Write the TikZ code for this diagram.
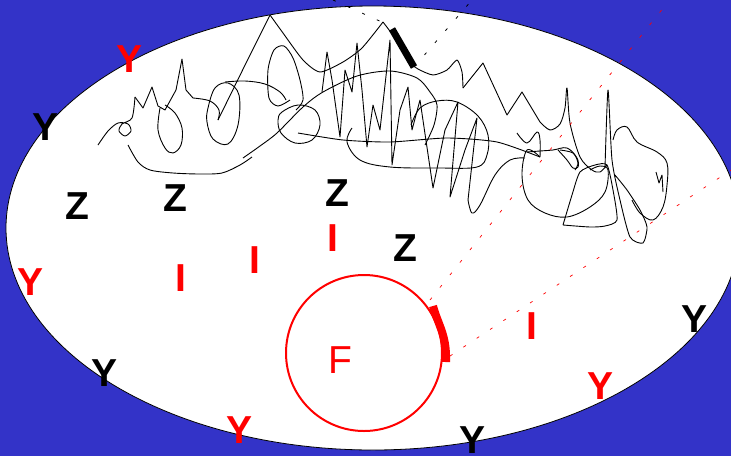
\documentclass[tikz,border=0pt]{standalone}
\usepackage{fontspec}
\setmainfont{Liberation Sans}
\definecolor{Backdrop}{HTML}{3333C8}
\definecolor{Mark}{HTML}{FF0000}

\begin{document}
\begin{tikzpicture}[
  x=1pt,y=-1pt,
  letter/.style={font=\fontsize{39}{39}\selectfont\bfseries,inner sep=0pt},
  scribble/.style={line width=0.9pt,line join=round},
  trail/.style={line width=0.8pt,dash pattern=on 3pt off 13pt}
]
  \fill[Backdrop] (0,0) rectangle (731,456);
  \useasboundingbox (0,0) rectangle (731,456);
  \draw[fill=white,line width=0.8pt] (373,228) ellipse [x radius=367,y radius=222];

  % scribble, left and top part
  \draw[scribble] plot[smooth,tension=0.5] coordinates {(98,145) (108,131) (118,123) (128,124) (131,131) (125,136) (119,131) (122,124) (132,118) (135,97)};
  \draw[scribble] (135,97) -- (143,108) -- (152,87) -- (158,106) -- (165,110) -- (176,90) -- (182,59) -- (186,90) -- (193,98);
  \draw[scribble] plot[smooth,tension=0.6] coordinates {(160,108) (158,130) (165,148) (173,153) (181,145) (182,128) (175,113) (165,105)};
  \draw[scribble] plot[smooth,tension=0.6] coordinates {(193,98) (210,101) (219,110) (218,120)};
  \draw[scribble] (218,120) -- (250,55) -- (270,15);
  \draw[scribble] plot[smooth cycle,tension=0.6] coordinates {(208,108) (215,88) (228,83) (239,95) (238,125) (228,144) (213,139) (207,122)};
  \draw[scribble] plot[smooth,tension=0.6] coordinates {(225,82) (245,81) (265,84) (280,92) (286,100)};
  \draw[scribble] plot[smooth,tension=0.5] coordinates {(128,145) (138,162) (150,170) (173,173) (200,174) (222,173) (240,165) (252,157)};
  \draw[scribble] plot[smooth,tension=0.4] coordinates {(270,15) (283,33) (303,60) (320,72) (343,62) (362,48) (383,22)};
  \draw[scribble] plot[smooth,tension=0.4] coordinates {(383,22) (398,42) (410,62) (418,69) (433,75) (447,70) (457,60) (462,72) (463,88)};
  \draw[scribble] (463,88) -- (483,63) -- (507,115) -- (522,92) -- (540,122);
  \draw[scribble] plot[smooth,tension=0.5] coordinates {(540,122) (550,130) (560,124) (565,108) (567,88) (570,123) (580,157) (592,170) (600,172) (607,165)};

  % scribble, middle part
  \draw[scribble] plot[smooth,tension=0.5] coordinates {(243,158) (260,146) (277,133) (303,107) (323,92) (357,76) (390,71) (417,78) (430,92) (437,105) (434,125) (425,145)};
  \draw[scribble] plot[smooth cycle,tension=0.6] coordinates {(282,112) (298,105) (315,110) (320,125) (312,140) (295,143) (281,133) (278,120)};
  \draw[scribble] plot[smooth,tension=0.5] coordinates {(290,100) (278,106) (269,98) (268,70) (274,50) (284,46) (293,58) (300,80) (303,100) (296,110)};
  \draw[scribble] plot[smooth,tension=0.4] coordinates {(298,133) (343,140) (390,142) (447,138) (497,142) (540,157)};
  \draw[scribble] plot[smooth,tension=0.6] coordinates {(352,128) (347,142) (360,160) (390,167) (440,168) (477,167) (487,155) (488,135) (478,116) (457,102) (437,101) (420,108) (411,125)};
  \draw[scribble] (322,92) -- (327,52) -- (332,80) -- (340,137) -- (345,70) -- (352,92) -- (357,43) -- (362,90) -- (367,147) -- (373,105) -- (380,130) -- (390,40) -- (392,165) -- (400,110) -- (408,87) -- (412,130) -- (420,100) -- (433,188) -- (445,130) -- (458,102) -- (450,197) -- (465,150) -- (477,118) -- (468,200);
  \draw[scribble] plot[smooth,tension=0.6] coordinates {(468,200) (472,213) (480,205) (495,175) (510,160) (525,158)};

  % scribble, right part
  \draw[scribble] plot[smooth,tension=0.6] coordinates {(517,133) (527,143) (537,132) (540,140) (540,157)};
  \draw[scribble] plot[smooth,tension=0.6] coordinates {(540,157) (527,150) (522,175) (528,200) (545,213) (567,217) (590,207) (605,192) (608,170) (600,166) (590,170)};
  \draw[scribble] plot[smooth,tension=0.6] coordinates {(527,152) (540,151) (553,150) (567,148) (577,158) (578,167) (573,168) (567,160) (558,150)};
  \draw[scribble] plot[smooth,tension=0.4] coordinates {(563,225) (572,195) (580,172) (595,165) (607,165) (613,190) (617,220) (605,226) (590,227) (563,225)};
  \draw[scribble] plot[smooth,tension=0.4] coordinates {(605,168) (608,90) (612,160) (620,200) (630,237) (643,243) (647,227) (640,210) (627,190) (615,175)};
  \draw[scribble] plot[smooth,tension=0.6] coordinates {(613,140) (617,130) (627,127) (637,142) (657,152) (667,163) (667,185) (663,207) (653,220) (640,213) (632,200)};
  \draw[scribble] plot[smooth,tension=0.5] coordinates {(560,150) (573,153) (578,163) (575,170)};
  \draw[scribble] (656,172) -- (659,183) -- (662,175) -- (663,192);

  % letters
  \foreach \name/\x/\y/\txt/\col in {
      y1/130/59/Y/Mark, y2/46/127/Y/black, z1/77/206/Z/black, z2/175/198/Z/black,
      z3/337/193/Z/black, i1/333/238/I/Mark, z4/405/248/Z/black, i2/255/260/I/Mark,
      i3/181/278/I/Mark, y3/31/282/Y/Mark, y4/105/373/Y/black, y5/240/430/Y/Mark,
      y6/473/440/Y/black, i4/532/326/I/Mark, y7/601/386/Y/Mark, y8/694/319/Y/black}
    \node[letter,text=\col] (\name) at (\x,\y) {\txt};

  % target circle
  \draw[Mark,line width=2pt] (364,353) circle [radius=78];
  \node[font=\fontsize{39}{39}\selectfont,inner sep=0pt,text=Mark] (f) at (340,360) {F};

  % thick marks
  \coordinate (blacktop) at (392,29);
  \coordinate (blackend) at (414,67);
  \coordinate (redtop) at (433,306);
  \coordinate (redend) at (446,362);
  \draw[line width=7pt] (blacktop) -- (blackend);
  \draw[Mark,line width=8pt] (redtop) .. controls (438,325) and (447,335) .. (redend);

  % dashed trails
  \coordinate (trailA) at (333,0);
  \coordinate (trailB) at (384,23);
  \coordinate (trailC) at (472,0);
  \coordinate (trailD) at (668,2);
  \coordinate (trailE) at (731,170);
  \draw[trail] (trailA) -- (trailB);
  \draw[trail] (blackend) -- (trailC);
  \draw[trail,Mark,line width=0.7pt] (redtop) ++(-3,-6) -- (trailD);
  \draw[trail,Mark,line width=0.7pt] (redend) ++(4,-6) -- (trailE);
\end{tikzpicture}
\end{document}
